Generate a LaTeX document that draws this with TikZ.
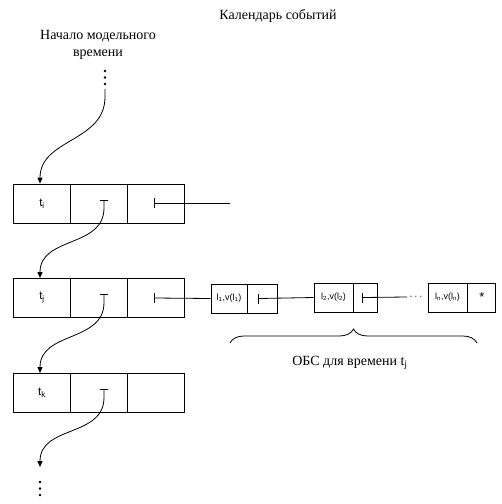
\documentclass[tikz,border=0pt]{standalone}
\usepackage{fontspec}
\setmainfont{Liberation Serif}
\setsansfont{Liberation Sans}
\usetikzlibrary{arrows.meta,decorations.pathreplacing}
\begin{document}
\begin{tikzpicture}[x=1pt,y=-1pt,line width=0.8pt,
 cell/.style={draw,minimum width=57pt,minimum height=39pt,inner sep=0pt,font=\sffamily\fontsize{11.5}{12}\selectfont},
 scell/.style={draw,minimum height=29pt,inner sep=0pt,font=\sffamily\fontsize{9}{10}\selectfont},
 lbl/.style={font=\fontsize{14}{17.5}\selectfont,inner sep=0pt,align=center},
 arr/.style={-{Triangle[length=6pt,width=5pt]}},
 vdot/.style={circle,fill,inner sep=0pt,minimum size=2.6pt}]
\useasboundingbox (0,0) rectangle (502,504);

% titles
\node[lbl] (title) at (278,16) {Календарь событий};
\node[lbl] (start) at (98,45) {Начало модельного\\времени};

% top dots
\node[vdot] (d1) at (105,71) {};
\node[vdot] (d2) at (105,77.5) {};
\node[vdot] (d3) at (105,84) {};

% row 1
\node[cell] (a1) at (42,203.5) {t\textsubscript{i}};
\node[cell] (a2) at (99,203.5) {};
\node[cell] (a3) at (156,203.5) {};
% row 2
\node[cell] (b1) at (42,298) {t\textsubscript{j}};
\node[cell] (b2) at (99,298) {};
\node[cell] (b3) at (156,298) {};
% row 3
\node[cell] (c1) at (42,393) {t\textsubscript{k}};
\node[cell] (c2) at (99,393) {};
\node[cell] (c3) at (156,393) {};

% pointer origins in the middle cells
\coordinate (ta) at (104,200);
\coordinate (tb) at (104,294.5);
\coordinate (tc) at (104,389.5);
\foreach \t in {ta,tb,tc}{\draw ([xshift=-4pt]\t) -- ([xshift=4pt]\t);}

% arrows
\coordinate (s0) at (105,89);
\draw[arr] (s0) -- ++(0,8) .. controls +(0,45) and +(0,-45) .. ([xshift=-2pt]a1.north);
\draw[arr] (ta) -- ++(0,8) .. controls +(0,40) and +(0,-42) .. ([xshift=-2pt]b1.north);
\draw[arr] (tb) -- ++(0,8) .. controls +(0,40) and +(0,-42) .. ([xshift=-2pt]c1.north);
\coordinate (cend) at (40,467);
\draw[arr] (tc) -- ++(0,8) .. controls +(0,40) and +(0,-42) .. (cend);

% bottom dots
\node[vdot] (e1) at (40,482) {};
\node[vdot] (e2) at (40,488.5) {};
\node[vdot] (e3) at (40,495) {};

% right cell pointers
\coordinate (pa) at (154,203);
\coordinate (pb) at (154,298);
\coordinate (aend) at (230,203);
\draw ([yshift=-5pt]pa) -- ([yshift=5pt]pa);
\draw (pa) -- (aend);
\draw ([yshift=-5pt]pb) -- ([yshift=5pt]pb);

% event list
\node[scell,minimum width=36pt] (l1) at (229,298.5) {l\textsubscript{1},v(l\textsubscript{1})};
\node[scell,minimum width=30pt,anchor=west] (p1) at (l1.east) {};
\node[scell,minimum width=39pt] (l2) at (333.5,297.5) {l\textsubscript{2},v(l\textsubscript{2})};
\node[scell,minimum width=24pt,anchor=west] (p2) at (l2.east) {};
\node[scell,minimum width=39pt] (ln) at (447.5,297.5) {l\textsubscript{n},v(l\textsubscript{n})};
\node[scell,minimum width=28pt,anchor=west,font=\sffamily\fontsize{13}{13}\selectfont] (pn) at (ln.east) {*};
\node[inner sep=0pt,font=\fontsize{11}{12}\selectfont] (dd) at (416,297) {$\cdots$};

\draw (pb) -- (l1.west);
\coordinate (q1) at ([xshift=-4pt]p1.center);
\coordinate (q2) at ([xshift=-3pt]p2.center);
\draw ([yshift=-5pt]q1) -- ([yshift=5pt]q1);
\draw (q1) -- (l2.west);
\draw ([yshift=-5pt]q2) -- ([yshift=5pt]q2);
\draw (q2) -- ([xshift=-2pt]dd.west);

% brace
\coordinate (br1) at (230,343);
\coordinate (br2) at (477,343);
\draw[decorate,decoration={brace,amplitude=14pt}] (br1) -- (br2);
\node[lbl] (obs) at (350,363) {ОБС для времени t\textsubscript{j}};
\end{tikzpicture}
\end{document}
